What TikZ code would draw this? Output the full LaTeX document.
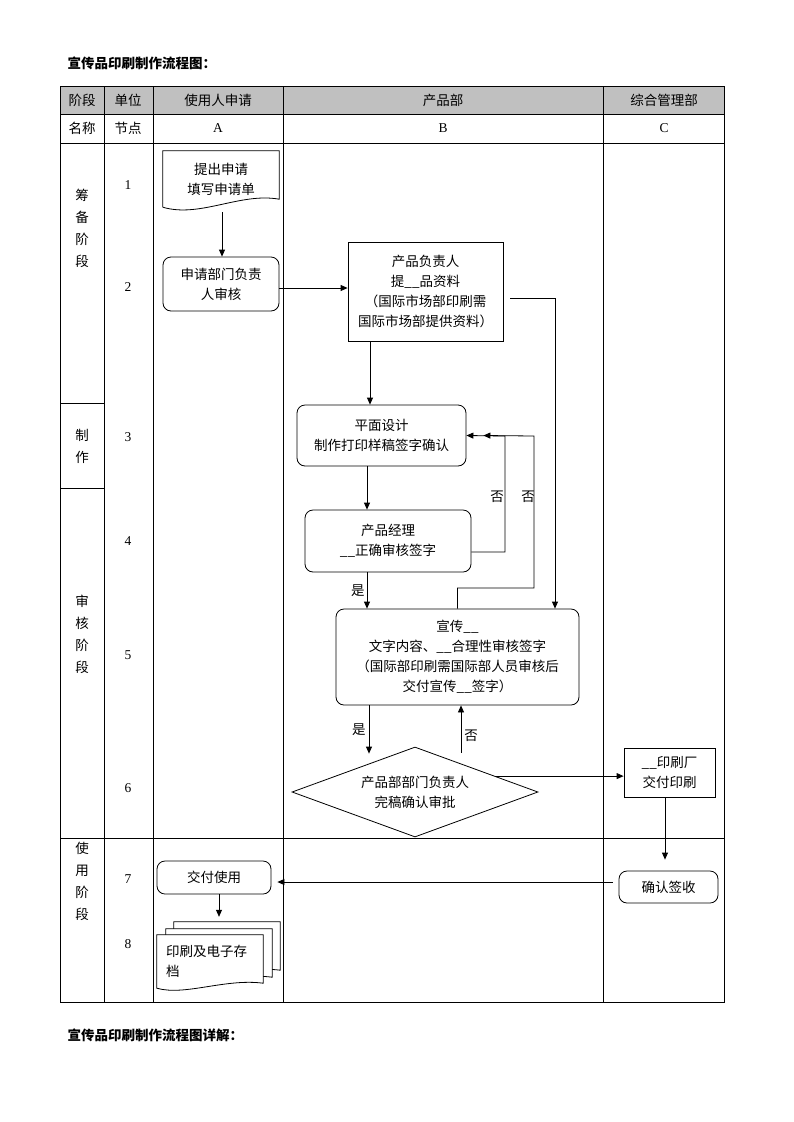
\documentclass[tikz,border=0pt]{standalone}
\usepackage{fontspec}
\setmainfont{Liberation Serif}
\newfontfamily\cjk{Noto Sans CJK SC}
\usepackage{tikz}
\usetikzlibrary{calc,positioning,arrows.meta,shapes.geometric,backgrounds}

\definecolor{hdrgray}{RGB}{192,192,192}
\tikzset{
  txt/.style={font=\cjk\fontsize{13.5}{20}\selectfont, align=center},
  num/.style={font=\fontsize{13.5}{16}\selectfont},
  stage/.style={font=\cjk\fontsize{13.5}{22}\selectfont, align=center},
  pbox/.style={txt, draw, line width=0.8pt},
  rbox/.style={pbox, rounded corners=8pt},
  docbox/.style={txt, inner sep=0pt},
  arr/.style={-{Triangle[length=7pt,width=6pt]}, line width=0.8pt},
  grid/.style={line width=0.8pt}
}

\begin{document}
\begin{tikzpicture}[x=1pt,y=-1pt]
        \useasboundingbox (0,0) rectangle (793,1122);

        % titles
        \node[anchor=west, font=\cjk\fontsize{13.5}{16}\selectfont\bfseries] (title) at (64,63) {宣传品印刷制作流程图：};
        \node[anchor=west, font=\cjk\fontsize{13.5}{16}\selectfont\bfseries] (detail) at (64,1035) {宣传品印刷制作流程图详解：};

        % table
        \fill[hdrgray] (60,86) rectangle (724,114);
        \draw[grid] (60,86) rectangle (724,1002);
        \draw[grid] (60,114) -- (724,114);
        \draw[grid] (60,143) -- (724,143);
        \draw[grid] (60,838) -- (724,838);
        \draw[grid] (104,86) -- (104,1002);
        \draw[grid] (153,86) -- (153,1002);
        \draw[grid] (283,86) -- (283,1002);
        \draw[grid] (603,86) -- (603,1002);
        \draw[grid] (60,403) -- (104,403);
        \draw[grid] (60,488) -- (104,488);

        \node[txt] (hstage) at (82,100) {阶段};
        \node[txt] (hunit) at (128,100) {单位};
        \node[txt] (huser) at (218,100) {使用人申请};
        \node[txt] (hprod) at (443,100) {产品部};
        \node[txt] (hadmin) at (664,100) {综合管理部};
        \node[txt] (nname) at (82,128) {名称};
        \node[txt] (nnode) at (128,128) {节点};
        \node[num] (nA) at (218,128) {A};
        \node[num] (nB) at (443,128) {B};
        \node[num] (nC) at (664,128) {C};

        % stages
        \node[stage] (sprep) at (82,228) {筹\\备\\阶\\段};
        \node[stage] (smake) at (82,446) {制\\作};
        \node[stage] (scheck) at (82,634) {审\\核\\阶\\段};
        \node[stage] (suse) at (82,881) {使\\用\\阶\\段};

        % step numbers
        \node[num] (n1) at (128,185) {1};
        \node[num] (n2) at (128,287) {2};
        \node[num] (n3) at (128,437) {3};
        \node[num] (n4) at (128,541) {4};
        \node[num] (n5) at (128,655) {5};
        \node[num] (n6) at (128,788) {6};
        \node[num] (n7) at (128,879) {7};
        \node[num] (n8) at (128,944) {8};

        % column A
        \node[docbox, minimum width=116pt, minimum height=56pt] (apply) at (221,179) {提出申请\\填写申请单};
        \draw[line width=0.8pt] (apply.south west) -- (apply.north west) -- (apply.north east)
            -- ($(apply.south east)+(0,-8)$) .. controls +(-39,-7) and +(37,11) .. (apply.south west);
        \node[rbox, minimum width=116pt, minimum height=54pt] (deptchk) at (221,284) {申请部门负责\\人审核};

        \node[rbox, minimum width=114pt, minimum height=33pt] (use) at (214,877.5) {交付使用};
        \node[docbox, text width=88pt, align=left, minimum width=106pt, minimum height=53pt] (archive) at (210,961.5) {印刷及电子存\\档};
        \begin{scope}[on background layer]
        \draw[line width=0.8pt, fill=white] ($(archive.south west)+(17,-13)$) -- ($(archive.north west)+(17,-13)$)
            -- ($(archive.north east)+(17,-13)$) -- ($(archive.south east)+(17,-18)$)
            .. controls +(-38,-5) and +(28,8) .. ($(archive.south west)+(17,-13)$) -- cycle;
        \draw[line width=0.8pt, fill=white] ($(archive.south west)+(9,-6)$) -- ($(archive.north west)+(9,-6)$)
            -- ($(archive.north east)+(9,-6)$) -- ($(archive.south east)+(9,-11)$)
            .. controls +(-38,-5) and +(28,8) .. ($(archive.south west)+(9,-6)$) -- cycle;
        \draw[line width=0.8pt, fill=white] (archive.south west) -- (archive.north west)
            -- (archive.north east) -- ($(archive.south east)+(0,-5)$)
            .. controls +(-38,-5) and +(28,8) .. (archive.south west) -- cycle;
        \end{scope}

        % column B
        \node[pbox, minimum width=155pt, minimum height=99pt] (prodinfo) at (425.5,291.5) {产品负责人\\提\_\_品资料\\（国际市场部印刷需\\国际市场部提供资料）};
        \node[rbox, minimum width=169pt, minimum height=61pt] (design) at (381.5,435.5) {平面设计\\制作打印样稿签字确认};
        \node[rbox, minimum width=166pt, minimum height=62pt] (pmchk) at (388,541) {产品经理\\\_\_正确审核签字};
        \node[rbox, minimum width=243pt, minimum height=96pt] (promo) at (457.5,657) {宣传\_\_\\文字内容、\_\_合理性审核签字\\（国际部印刷需国际部人员审核后\\交付宣传\_\_签字）};
        \node[txt, shape=diamond, draw, line width=0.8pt, aspect=2.7, inner sep=0pt,
              minimum width=246pt, minimum height=90pt] (approve) at (415,792) {产品部部门负责人\\完稿确认审批};

        % column C
        \node[pbox, minimum width=91pt, minimum height=49pt] (print) at (669.5,772.5) {\_\_印刷厂\\交付印刷};
        \node[rbox, minimum width=99pt, minimum height=32pt] (recv) at (668.5,887) {确认签收};

        % connectors
        \coordinate (fb1) at (505,436);
        \coordinate (fb2a) at (534,588);
        \coordinate (fb2) at (534,436);
        \coordinate (apr) at ($(approve.north)!0.65!(approve.east)$);
        \coordinate (recvin) at ($(print.south |- recv.north)+(-4.5,-11)$);

        \draw[arr] ($(apply.south)+(1,5)$) -- (deptchk.north -| 222,0);
        \draw[arr] ([yshift=-4pt]deptchk.east) -- ([yshift=-4pt]deptchk.east -| prodinfo.west);
        \draw[arr] ([xshift=-11.5pt]design.north |- prodinfo.south) -- ([xshift=-11.5pt]design.north);
        \draw[arr] ([xshift=-14.5pt]design.south) -- ([xshift=-14.5pt]design.south |- pmchk.north);
        \draw[arr] ([xshift=-21pt]pmchk.south) -- ([xshift=-21pt]pmchk.south |- promo.north)
            node[txt, midway, left, inner sep=2pt] (yes1) {是};
        \draw[arr] ([yshift=-11pt]pmchk.east) -| (fb1) -- (design.east);
        \node[txt] (no1) at (497,497) {否};
        \draw[arr] (promo.north) |- (fb2a) -- (fb2) -- ([xshift=17pt]design.east);
        \node[txt] (no2) at (528,497) {否};
        \draw[arr] ([xshift=7pt,yshift=-6.5pt]prodinfo.east) -| ([xshift=97.5pt]promo.north);
        \draw[arr] ([xshift=-88.5pt]promo.south) -- ([xshift=-46pt,yshift=-7pt]approve.north)
            node[txt, midway, left, inner sep=3pt] (yes2) {是};
        \draw[arr] ([xshift=46pt,yshift=-6pt]approve.north) -- ([xshift=3.5pt]promo.south)
            node[txt, pos=0.35, right, inner sep=3pt] (no3) {否};
        \draw[arr] (apr) -- (apr -| print.west);
        \draw[arr] (recvin |- print.south) -- (recvin);
        \draw[arr] ([xshift=-6pt,yshift=5pt]recv.west) -- ([xshift=6pt,yshift=-4.5pt]use.east);
        \draw[arr] ([xshift=5pt]use.south) -- ([xshift=9pt,yshift=18pt]archive.north);
    \end{tikzpicture}
\end{document}
